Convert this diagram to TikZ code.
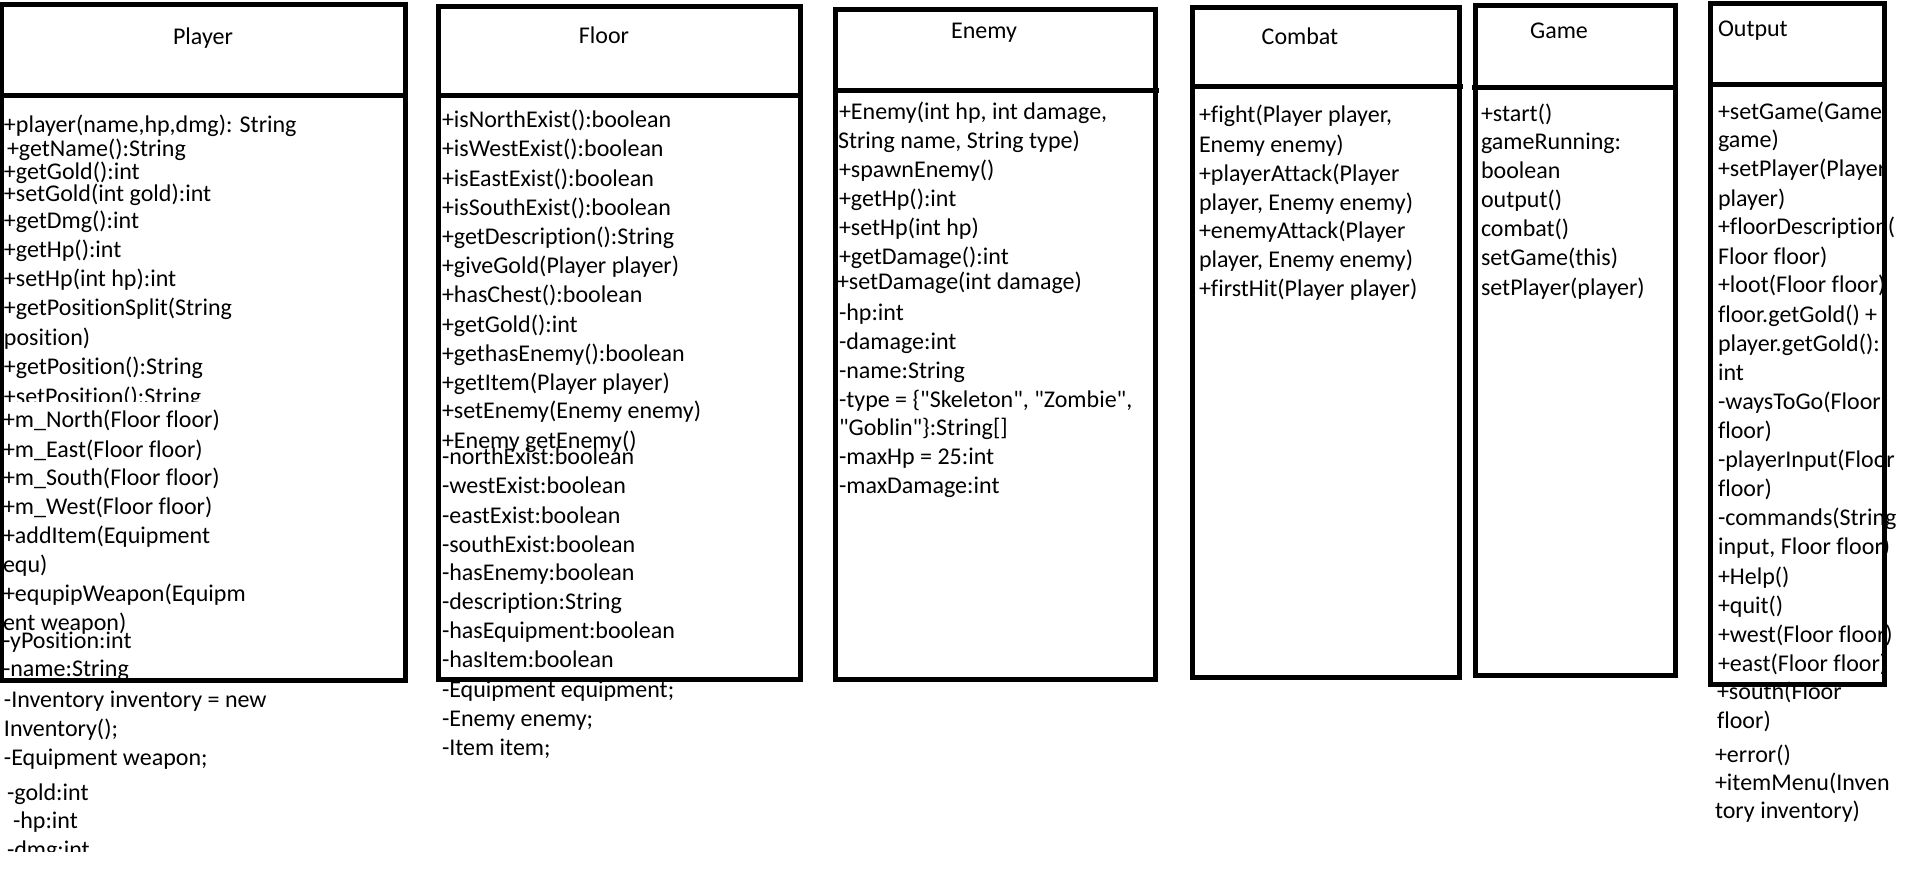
\documentclass[tikz,border=0pt]{standalone}
\usepackage{fontspec}
\setmainfont{Carlito}[Ligatures=CommonOff]
\newfontfamily\calib{Carlito}[Ligatures=CommonOff]
\newcommand\dq{{\calib\char"22\relax}}
\tikzset{
 txt/.style={anchor=base west, inner sep=0pt, outer sep=0pt, font=\calib\fontsize{24}{29}\selectfont, text=black},
 ttl/.style={anchor=base, inner sep=0pt, outer sep=0pt, font=\calib\fontsize{24}{29}\selectfont, text=black},
 umlbox/.style={draw=black, line width=5pt, line join=miter},
 umlsep/.style={draw=black, line width=5pt},
 blank/.style={fill=white, draw=none},
}
\newcommand\classlines[2]{\foreach \xx/\yy/\tx [count=\kk] in {#2} {\node[txt] (#1\kk) at (\xx,\yy) {\tx};}}
\begin{document}
\begin{tikzpicture}[x=1pt,y=-1pt]
\fill[white] (0,0) rectangle (1914,877);
\useasboundingbox (0,0) rectangle (1914,877);

% ---------- Player ----------
\node[ttl] (tplayer) at (203,45) {Player};
\classlines{pl}{
4/133/{+player(name,hp,dmg): String},
7/157/{+getName():String},
4/180/{+getGold():int},
4/202/{+setGold(int gold):int},
4/229/{+getDmg():int},
4/258/{+getHp():int},
4/287/{+setHp(int hp):int},
4/316/{+getPositionSplit(String},
4/345/{position)},
4/374/{+getPosition():String},
4/404/{+setPosition():String}}
\fill[blank] (2,401.5) rectangle (380,410);
\classlines{pm}{
3/427/{+m\_North(Floor floor)},
3/457/{+m\_East(Floor floor)},
3/485/{+m\_South(Floor floor)},
3/514/{+m\_West(Floor floor)},
3/543/{+addItem(Equipment},
3/572/{equ)},
3/601/{+equpipWeapon(Equipm},
3/630/{ent weapon)},
3/648/{-yPosition:int},
3/676/{-name:String},
4/707/{-Inventory inventory = new},
4/736/{Inventory();},
4/765/{-Equipment weapon;},
7/800/{-gold:int},
13/828/{-hp:int},
7/857/{-dmg:int}}
\fill[blank] (0,852) rectangle (400,877);

% ---------- Floor ----------
\node[ttl] (tfloor) at (604,44) {Floor};
\classlines{fl}{
442/128/{+isNorthExist():boolean},
442/157/{+isWestExist():boolean},
442/187/{+isEastExist():boolean},
442/216/{+isSouthExist():boolean},
442/245/{+getDescription():String},
442/274/{+giveGold(Player player)},
442/303/{+hasChest():boolean},
442/332/{+getGold():int},
442/361/{+gethasEnemy():boolean},
442/390/{+getItem(Player player)},
442/418/{+setEnemy(Enemy enemy)},
442/448/{+Enemy getEnemy()},
442/464/{-northExist:boolean},
442/493/{-westExist:boolean},
442/523/{-eastExist:boolean},
442/552/{-southExist:boolean},
442/580/{-hasEnemy:boolean},
442/609/{-description:String},
442/638/{-hasEquipment:boolean},
442/667/{-hasItem:boolean},
442/697/{-Equipment equipment;},
442/726/{-Enemy enemy;},
442/755/{-Item item;}}

% ---------- Enemy ----------
\node[ttl] (tenemy) at (984,39) {Enemy};
\classlines{en}{
839/120/{+Enemy(int hp, int damage,},
838/149/{String name, String type)},
839/178/{+spawnEnemy()},
839/207/{+getHp():int},
839/236/{+setHp(int hp)},
839/265/{+getDamage():int},
837/290/{+setDamage(int damage)},
839/320/{-hp:int},
839/349/{-damage:int},
839/378/{-name:String},
839/407/{-type = \{\dq Skeleton\dq, \dq Zombie\dq,},
839/435/{\dq Goblin\dq\}:String[]},
839/464/{-maxHp = 25:int},
839/493/{-maxDamage:int}}

% ---------- Combat ----------
\node[ttl] (tcombat) at (1300,45) {Combat};
\classlines{co}{
1199/123/{+fight(Player player,},
1199/153/{Enemy enemy)},
1199/182/{+playerAttack(Player},
1199/211/{player, Enemy enemy)},
1199/239/{+enemyAttack(Player},
1199/268/{player, Enemy enemy)},
1199/297/{+firstHit(Player player)}}

% ---------- Game ----------
\node[ttl] (tgame) at (1559,39) {Game};
\classlines{ga}{
1481/122/{+start()},
1481/150/{gameRunning:},
1481/179/{boolean},
1481/208/{output()},
1481/237/{combat()},
1481/266/{setGame(this)},
1481/295/{setPlayer(player)}}

% ---------- Output ----------
\node[txt] (toutput) at (1718,37) {Output};
\classlines{ou}{
1718/120/{+setGame(Game},
1718/148/{game)},
1718/177/{+setPlayer(Player},
1718/207/{player)},
1718/235/{+floorDescription(},
1718/265/{Floor floor)},
1718/293/{+loot(Floor floor)},
1718/323/{floor.getGold() +},
1718/352/{player.getGold():},
1718/380/{int},
1718/409/{-waysToGo(Floor},
1718/438/{floor)},
1718/467/{-playerInput(Floor},
1718/496/{floor)},
1718/525/{-commands(String},
1718/554/{input, Floor floor)},
1718/584/{+Help()},
1718/613/{+quit()},
1718/642/{+west(Floor floor)},
1718/671/{+east(Floor floor)},
1717/699/{+south(Floor},
1717/728/{floor)},
1715/762/{+error()},
1715/790/{+itemMenu(Inven},
1715/818/{tory inventory)}}

% ---------- boxes (drawn over the text) ----------
\draw[umlbox] (1.5,5) rectangle (405,680);
\draw[umlsep] (1.5,95.5) -- (405,95.5);

\draw[umlbox] (438,6.5) rectangle (800,679);
\draw[umlsep] (438,95.5) -- (800,95.5);

\draw[umlbox] (835,9.5) rectangle (1155.5,679.5);
\draw[umlsep] (835,90.5) -- (1159,90.5);

\draw[umlbox] (1192.5,7.5) rectangle (1459.5,677.5);
\draw[umlsep] (1190,86.5) -- (1463,86.5);

\draw[umlbox] (1475,5.5) rectangle (1675.5,675.5);
\draw[umlsep] (1472,87.5) -- (1675.5,87.5);

\draw[umlbox] (1710.5,4) rectangle (1884.5,684.5);
\draw[umlsep] (1710.5,84.5) -- (1884.5,84.5);
\end{tikzpicture}
\end{document}
